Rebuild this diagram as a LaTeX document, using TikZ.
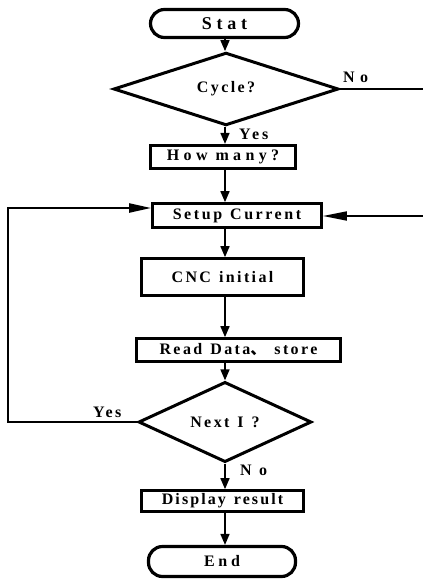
\documentclass[tikz,border=0pt]{standalone}
\usepackage{fontspec}
\setmainfont{Liberation Serif}
\newfontfamily\cjk{Noto Sans CJK SC}
\usetikzlibrary{shapes.geometric,arrows.meta}
\newcommand\lsf[2]{\fontsize{#1pt}{#1pt}\selectfont\bfseries\addfontfeature{LetterSpace=#2}\spaceskip=0.5em\relax}
\begin{document}
\begin{tikzpicture}[x=1pt,y=-1pt,
  conn/.style={line width=1.6pt},
  arr/.style={conn, -{Triangle[length=11pt,width=9pt]}},
  harr/.style={line width=1.8pt, -{Triangle[length=24pt,width=9pt]}},
  loopline/.style={line width=2.2pt, -{Triangle[length=22pt,width=9pt]}},
  term/.style={draw, line width=3.2pt, rectangle, rounded corners=14pt, inner sep=0pt},
  proc/.style={draw, line width=2.7pt, rectangle, inner sep=0pt},
  dec/.style={draw, line width=3pt, diamond, inner sep=0pt},
  lab/.style={inner sep=0pt, anchor=base west}]
\useasboundingbox (0,0) rectangle (423,581);
\coordinate (T) at (225,0);
\node[term, minimum width=148pt, minimum height=28pt, font=\lsf{18}{26}] (stat) at (224.5,23.5) {Stat};
\node[dec, minimum width=225pt, minimum height=59pt, font=\lsf{16}{15}] (cycle) at (226,89) {Cycle?};
\node[proc, minimum width=145.5pt, minimum height=23.5pt, font=\lsf{16}{27}] (howmany) at (223,157) {How many?};
\node[proc, minimum width=169pt, minimum height=24pt, font=\lsf{16}{16}] (setup) at (237,215.5) {Setup Current};
\node[proc, minimum width=162pt, minimum height=37pt, font=\lsf{16}{15}] (cnc) at (222.5,277) {CNC initial};
\node[proc, minimum width=204pt, minimum height=23pt, font=\lsf{16}{15}] (read) at (238.5,350) {Read Data{\cjk 、} store};
\node[dec, minimum width=173pt, minimum height=59pt, font=\lsf{16}{15}] (next) at (225,422) {Next I ?};
\node[proc, minimum width=162pt, minimum height=21pt, font=\lsf{16}{13}] (display) at (222.5,501) {Display result};
\node[term, minimum width=147pt, minimum height=30pt, font=\lsf{16}{23}] (end) at (222,561.5) {End};
% labels
\node[lab, font=\lsf{16}{34}] (lno1) at (343,82) {No};
\node[lab, font=\lsf{16}{19}] (lyes1) at (239,139) {Yes};
\node[lab, font=\lsf{16}{16}] (lyes2) at (93,417) {Yes};
\node[lab, font=\lsf{16}{46}] (lno2) at (240,475) {No};
% connectors
\draw[arr] (stat.south -| T) -- (cycle.north -| T);
\draw[arr] (cycle.south -| T) -- (howmany.north -| T);
\draw[arr] (howmany.south -| T) -- (setup.north -| T);
\draw[arr] (setup.south -| T) -- (cnc.north -| T);
\draw[arr] (cnc.south -| T) -- (read.north -| T);
\draw[arr] (read.south -| T) -- (next.north -| T);
\draw[arr] (next.south -| T) -- (display.north -| T);
\draw[arr] (display.south -| T) -- (end.north -| T);
\coordinate (LL) at (8,208);
\draw[loopline] (next.west) -| (LL) -- (LL -| setup.west);
\coordinate (R1) at (423,89);
\coordinate (R2) at (423,216);
\draw[conn] (cycle.east) -- (R1);
\draw[harr] (R2) -- (R2 -| setup.east);
\end{tikzpicture}
\end{document}
